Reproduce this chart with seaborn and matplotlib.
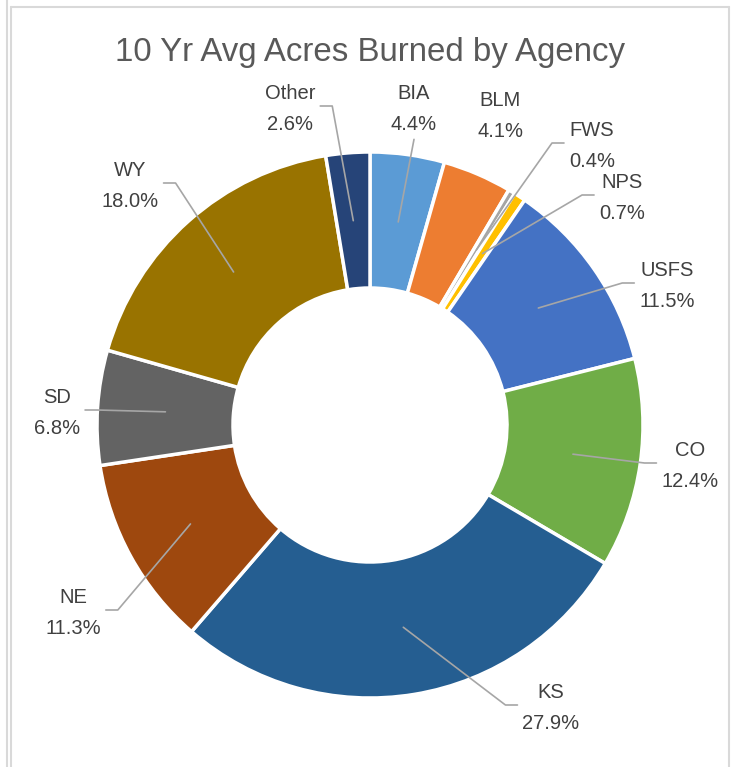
import matplotlib
matplotlib.use("Agg")
import matplotlib.pyplot as plt
import seaborn as sns
import numpy as np

# 10 year average share of acres burned, clockwise from 12 o'clock
agencies = ["BIA", "BLM", "FWS", "NPS", "USFS", "CO", "KS", "NE", "SD", "WY", "Other"]
share = [4.4, 4.1, 0.4, 0.7, 11.5, 12.4, 27.9, 11.3, 6.8, 18.0, 2.6]

# Office default accent palette
colors = ["#5B9BD5", "#ED7D31", "#A5A5A5", "#FFC000", "#4472C4", "#70AD47",
          "#255E91", "#9E480E", "#636363", "#997300", "#264478"]

W, H = 736, 767

# label centres in pixels from the top-left corner (dragged labels in the original)
label_px = {
    "BIA": (414, 109), "BLM": (500, 116), "FWS": (592, 146), "NPS": (622, 198),
    "USFS": (667, 286), "CO": (690, 466), "KS": (551, 708), "NE": (73, 613),
    "SD": (57, 413), "WY": (130, 186), "Other": (290, 109),
}
no_leader = {"BLM"}

sns.set_theme(style="white")
plt.rcParams["font.family"] = ["Liberation Sans", "DejaVu Sans"]

fig = plt.figure(figsize=(W / 100, H / 100), dpi=100)
ax = fig.add_axes([0, 0, 1, 1])

cx, cy = 370, H - 425
r_out, ring = 273, 136

wedges, _ = ax.pie(
    share, colors=colors, startangle=90, counterclock=False,
    center=(cx, cy), radius=r_out, frame=True,
    wedgeprops=dict(width=ring, edgecolor="white", linewidth=2.5),
)
ax.set_xlim(0, W)
ax.set_ylim(0, H)
ax.set_aspect("equal", adjustable="box")
ax.axis("off")

# chart frame
frame_kw = dict(color="#D9D9D9", lw=1.5, zorder=0)
ax.plot([7, 7], [0, H], **frame_kw)
ax.plot([10.5, 10.5], [0, H - 7], **frame_kw)
ax.plot([10.5, 729], [H - 7, H - 7], **frame_kw)
ax.plot([729, 729], [0, H - 7], **frame_kw)

ax.text(370, H - 52, "10 Yr Avg Acres Burned by Agency", ha="center", va="center",
        fontsize=23.8, color="#595959")

texts = []
for name, val in zip(agencies, share):
    lx, ly = label_px[name]
    t = ax.text(lx, H - ly, f"{name}\n{val:.1f}%", ha="center", va="center",
                fontsize=14.5, color="#404040", linespacing=1.85)
    texts.append(t)

fig.canvas.draw()
renderer = fig.canvas.get_renderer()

r_mid = r_out - ring / 2
gap, stub = 5, 12
for name, w, t in zip(agencies, wedges, texts):
    if name in no_leader:
        continue
    ang = np.deg2rad((w.theta1 + w.theta2) / 2)
    px, py = cx + r_mid * np.cos(ang), cy + r_mid * np.sin(ang)
    bb = t.get_window_extent(renderer)
    mx, my = (bb.x0 + bb.x1) / 2, (bb.y0 + bb.y1) / 2 + 3
    if bb.x0 <= px <= bb.x1:
        ey = bb.y0 - gap if py < bb.y0 else bb.y1 + gap
        xs, ys = [mx, px], [ey, py]
    elif px > bb.x1:
        xs, ys = [bb.x1 + gap, bb.x1 + gap + stub, px], [my, my, py]
    else:
        xs, ys = [bb.x0 - gap, bb.x0 - gap - stub, px], [my, my, py]
    ax.plot(xs, ys, color="#A6A6A6", lw=1.2, zorder=5)

fig.savefig("out.png", dpi=100, facecolor="white")
